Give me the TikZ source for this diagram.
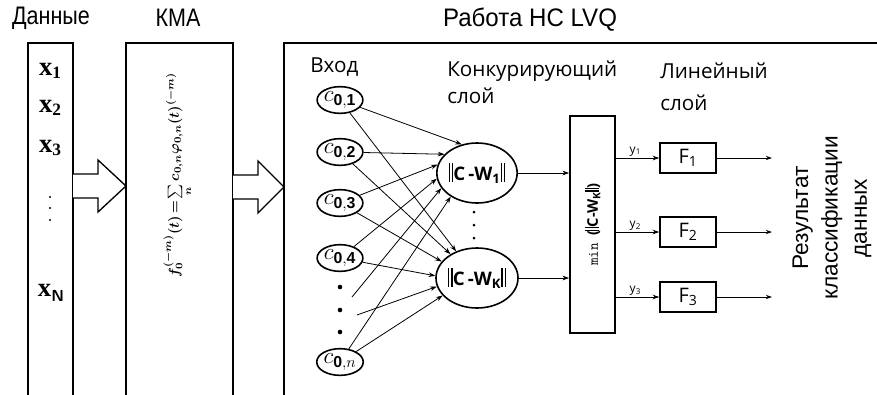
\documentclass[tikz,border=0pt]{standalone}
\usepackage{fontspec}
\usepackage{amsmath}
\setmainfont{Liberation Sans}
\newfontfamily\osans{Open Sans}
\newfontfamily\tserif{Liberation Serif}
\usetikzlibrary{arrows.meta,shapes.geometric,fit}
\newcommand{\dbar}{\rule[-0.15ex]{1pt}{1.85ex}\kern1.6pt\rule[-0.15ex]{1pt}{1.85ex}}
\newcommand{\sbar}{\rule[-0.1ex]{0.8pt}{1.75ex}\kern1pt\rule[-0.1ex]{0.8pt}{1.75ex}}
\begin{document}
\begin{tikzpicture}[x=0.75pt,y=-0.75pt,
  box/.style={draw,line width=1.3pt,inner sep=0pt},
  hollow/.style={draw,line width=1pt,fill=white,line join=miter},
  inp/.style={ellipse,draw,line width=1.2pt,minimum width=25pt,minimum height=20pt,inner sep=0pt,font=\fontsize{17}{18}\selectfont},
  comp/.style={ellipse,draw,line width=1.2pt,minimum width=53pt,minimum height=45pt,inner sep=0pt,font=\osans\bfseries\fontsize{14}{16}\selectfont},
  fbox/.style={draw,line width=1.2pt,minimum width=42pt,minimum height=22.5pt,inner sep=0pt,font=\osans\fontsize{15}{17}\selectfont},
  arr/.style={line width=0.6pt,-{Stealth[length=5pt,width=3.5pt]}},
  thinarr/.style={line width=0.5pt,-{Stealth[length=4.5pt,width=3pt]}},
  head/.style={font=\fontsize{19}{21}\selectfont},
  lab/.style={font=\osans\fontsize{15.5}{18}\selectfont,align=left,inner sep=0pt},
  xl/.style={font=\tserif\bfseries\fontsize{20}{22}\selectfont,inner sep=0pt},
  ylab/.style={above,font=\osans\fontsize{9}{10}\selectfont,inner sep=1pt,pos=0.45}
]
\useasboundingbox (0,0) rectangle (877,394);
\clip (0,0) rectangle (877,394);

% headers
\node[head] (hdata) at (51,18) {\scalebox{0.85}[1]{Данные}};
\node[head] (hkma) at (178,18) {\scalebox{0.85}[1]{КМА}};
\node[head] (hnn) at (530,20) {\scalebox{0.95}[1]{Работа НС LVQ}};

% big boxes (open at the bottom, beyond the picture)
\node[box,fit={(28,43) (73,460)}] (data) {};
\node[box,fit={(126,43) (233,460)}] (kma) {};
\node[box,fit={(284,43) (900,460)}] (nn) {};

% hollow arrows
\draw[hollow] (73,174) -- (98,174) -- (98,160) -- (126,186) -- (98,212) -- (98,198) -- (73,198);
\draw[hollow] (233,175) -- (258,175) -- (258,161) -- (284,187) -- (258,213) -- (258,199) -- (233,199);

% data labels
\node[xl] (x1) at (50,71) {x\raisebox{-0.25ex}{\fontsize{13}{14}\selectfont 1}};
\node[xl] (x2) at (50,108) {x\raisebox{-0.25ex}{\fontsize{13}{14}\selectfont 2}};
\node[xl] (x3) at (50,148) {x\raisebox{-0.25ex}{\fontsize{13}{14}\selectfont 3}};
\node[xl] (xn) at (51,293) {x\raisebox{-0.45ex}{\sffamily\fontsize{12}{13}\selectfont N}};
\fill (50,197) circle (1.2) (50,208) circle (1.2) (50,220) circle (1.2);

% formula
\node[rotate=90,inner sep=0pt] (formula) at (178,175)
  {\scalebox{1.08}{$\boldsymbol{f_0^{(-m)}(t)\!=\!\sum\limits_n c_{0,n}\varphi_{0,n}(t)^{(-m)}}$}};

% network labels
\node[lab,anchor=west] (lin) at (310,67) {Вход};
\node[lab,anchor=north west] (lcomp) at (447,61) {Конкурирующий\\[2pt]слой};
\node[lab,anchor=north west] (llin) at (660,63) {Линейный\\[6pt]слой};

% inputs
\node[inp] (c1) at (340,100) {$c_{\mathbf{0,1}}$};
\node[inp] (c2) at (340,152) {$c_{\mathbf{0,2}}$};
\node[inp] (c3) at (340,203) {$c_{\mathbf{0,3}}$};
\node[inp] (c4) at (340,258) {$c_{\mathbf{0,4}}$};
\node[inp] (cn) at (340,362) {$c_{\mathbf{0,}n}$};
\fill (340,287) circle (2.3) (340,310) circle (2.3) (340,332) circle (2.3);
\coordinate (d1) at (352,297);
\coordinate (d2) at (357,315);

% competing neurons
\node[comp] (w1) at (477,173) {\dbar C\,-W\textsubscript{1}\dbar};
\node[comp] (wk) at (477,278) {\dbar C\,-W\textsubscript{K}\dbar};
\fill (474,212) circle (1.5) (474,225) circle (1.5) (474,238) circle (1.5);

% connections
\draw[arr] (c1) -- (w1.118);
\draw[arr] (c1) -- (wk.128);
\draw[arr] (c2) -- (w1.150);
\draw[arr] (c2) -- (wk.138);
\draw[arr] (c3) -- (w1.168);
\draw[arr] (c3) -- (wk.155);
\draw[arr] (c4) -- (w1.188);
\draw[arr] (c4) -- (wk.177);
\draw[arr] (d1) -- (w1.203);
\draw[arr] (d2) -- (wk.192);
\draw[arr] (cn) -- (w1.222);
\draw[arr] (cn) -- (wk.207);

% min box
\node[box,minimum width=33.75pt,minimum height=162.75pt] (mn) at (592.5,224.5) {};
\node[rotate=90,inner sep=0pt] (mnt) at (mn) {\ttfamily\fontsize{11}{12}\selectfont min \osans\bfseries (\sbar C-W\textsubscript{K}\sbar)};
\draw[arr] (w1.east) -- (w1.east -| mn.west);
\draw[arr] (wk.east) -- (wk.east -| mn.west);

% linear layer
\node[fbox] (f1) at (688,158) {F\textsubscript{1}};
\node[fbox] (f2) at (688,232) {F\textsubscript{2}};
\node[fbox] (f3) at (688,297) {F\textsubscript{3}};
\draw[arr] (f1.west -| mn.east) -- node[ylab] (y1) {y\textsubscript{1}} (f1.west);
\draw[arr] (f2.west -| mn.east) -- node[ylab] (y2) {y\textsubscript{2}} (f2.west);
\draw[arr] (f3.west -| mn.east) -- node[ylab] (y3) {y\textsubscript{3}} (f3.west);
\coordinate (o1) at (772,158);
\coordinate (o2) at (772,232);
\coordinate (o3) at (772,297);
\draw[thinarr] (f1.east) -- (o1);
\draw[thinarr] (f2.east) -- (o2);
\draw[thinarr] (f3.east) -- (o3);

% result
\node[rotate=90,align=center,font=\fontsize{17}{22}\selectfont] (res) at (832,218) {Результат\\классификации\\данных};
\end{tikzpicture}
\end{document}
